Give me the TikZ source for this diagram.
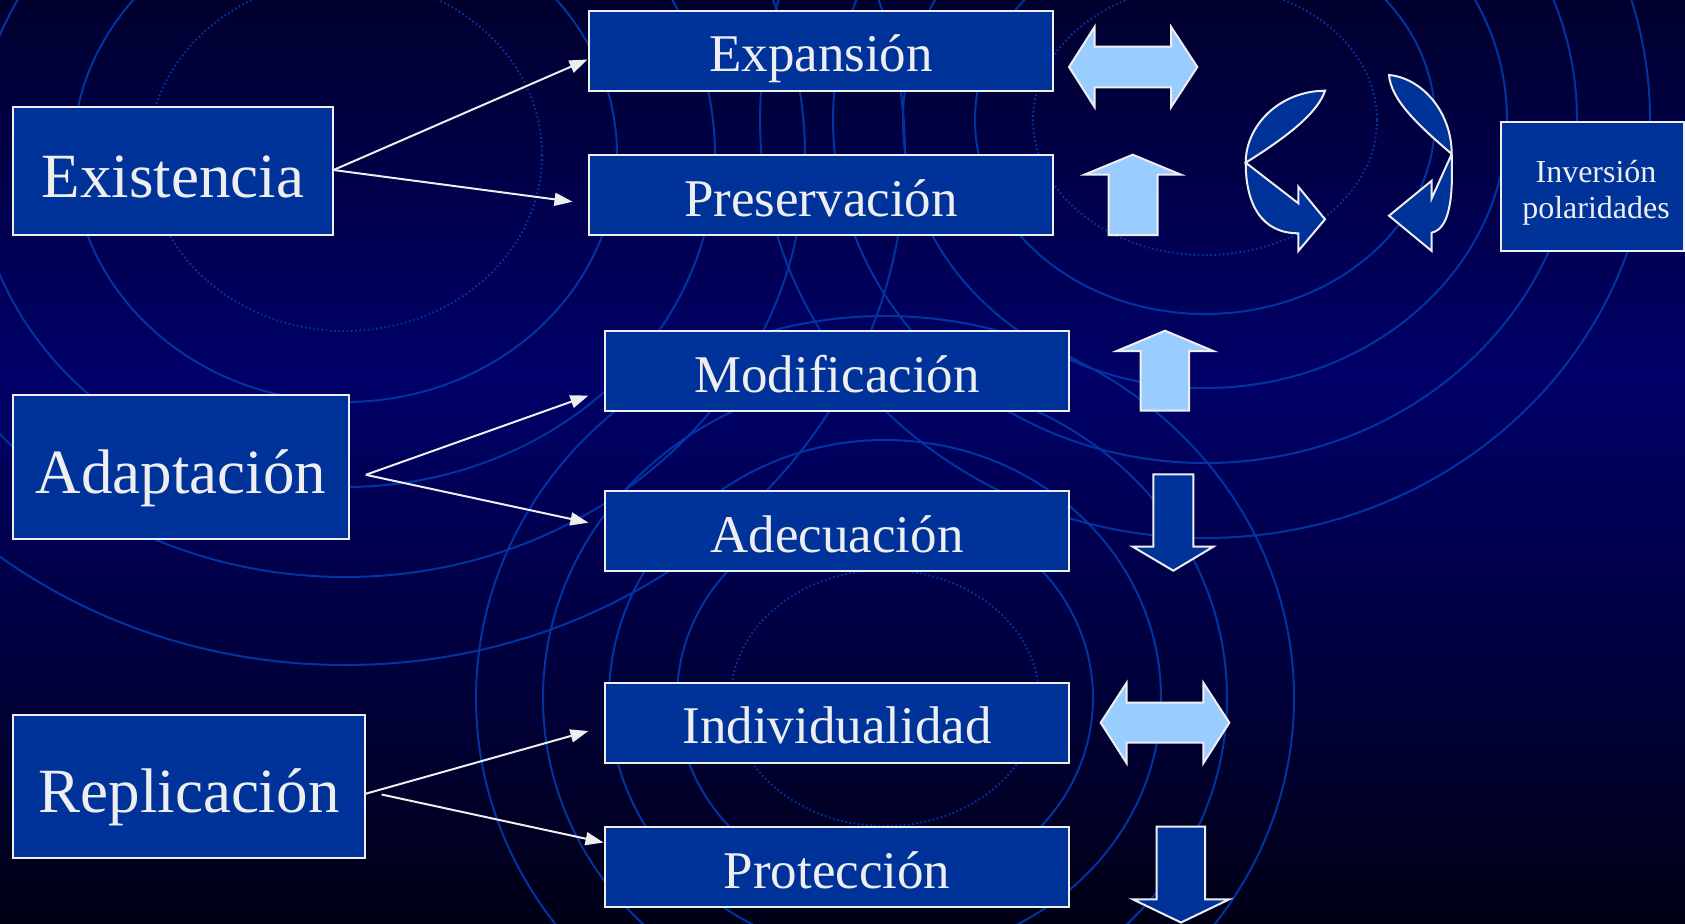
\documentclass[tikz,border=0pt]{standalone}
\usepackage{fontspec}
\setmainfont{Liberation Serif}
\usetikzlibrary{arrows.meta}
\definecolor{boxblue}{RGB}{0,51,153}
\definecolor{lightblue}{RGB}{153,204,255}
\definecolor{txt}{RGB}{238,238,238}
\definecolor{ring}{RGB}{0,52,160}
\definecolor{bgtop}{RGB}{0,0,46}
\definecolor{bgmid}{RGB}{0,0,104}
\definecolor{bgbot}{RGB}{0,0,22}
\begin{document}
\begin{tikzpicture}[x=1pt,y=-1pt,
  ringline/.style={draw=ring, line width=2pt},
  ringdot/.style={draw=ring, line width=2pt, dash pattern=on 1.6pt off 2.6pt},
  bigbox/.style={draw=txt, line width=2pt, fill=boxblue, text=txt, inner sep=0pt,
     font=\fontsize{63}{70}\selectfont, text height=52pt, text depth=0pt},
  midbox/.style={draw=txt, line width=2pt, fill=boxblue, text=txt, inner sep=0pt,
     minimum width=464pt, minimum height=80pt,
     font=\fontsize{53}{60}\selectfont, text height=42pt, text depth=0pt},
  smallbox/.style={draw=txt, line width=2pt, fill=boxblue, text=txt, inner sep=0pt,
     align=center, font=\fontsize{32}{36}\selectfont},
  link/.style={draw=txt, line width=2pt, -{Triangle[length=18pt,width=13pt]}},
  lightarrow/.style={draw=txt, line width=2pt, fill=lightblue, line join=miter},
  darkarrow/.style={draw=txt, line width=2pt, fill=boxblue, line join=miter}
]
\useasboundingbox (0,0) rectangle (1685,923);
% background
\fill[top color=bgtop, bottom color=bgmid] (0,0) rectangle (1685,381);
\fill[top color=bgmid, bottom color=bgbot] (0,380) rectangle (1685,923);
\begin{scope}
\clip (0,0) rectangle (1685,923);
% ripple set A (top left)
\draw[ringdot]  (345,155) ellipse [x radius=197, y radius=176];
\draw[ringline] (345,155) ellipse [x radius=272, y radius=247];
\draw[ringline] (345,155) ellipse [x radius=370, y radius=332];
\draw[ringline] (345,155) ellipse [x radius=460, y radius=422];
\draw[ringline] (345,155) ellipse [x radius=560, y radius=510];
% ripple set B (top right)
\draw[ringdot]  (1205,120) ellipse [x radius=172, y radius=135];
\draw[ringline] (1205,120) ellipse [x radius=230, y radius=194];
\draw[ringline] (1205,120) ellipse [x radius=302, y radius=268];
\draw[ringline] (1205,120) ellipse [x radius=372, y radius=343];
\draw[ringline] (1205,120) ellipse [x radius=445, y radius=418];
% ripple set C (bottom centre)
\draw[ringdot]  (885,698) ellipse [x radius=154, y radius=128];
\draw[ringline] (885,698) ellipse [x radius=208, y radius=194];
\draw[ringline] (885,698) ellipse [x radius=276, y radius=258];
\draw[ringline] (885,698) ellipse [x radius=342, y radius=320];
\draw[ringline] (885,698) ellipse [x radius=409, y radius=382];
\end{scope}

% left boxes
\node[bigbox, minimum width=320pt, minimum height=128pt] (ex) at (173,171) {Existencia};
\node[bigbox, minimum width=336pt, minimum height=144pt] (ad) at (181,467) {Adaptación};
\node[bigbox, minimum width=352pt, minimum height=143pt] (re) at (189,786.5) {Replicación};

% middle boxes
\node[midbox] (exp) at (821,50.7) {Expansión};
\node[midbox] (pre) at (821,195) {Preservación};
\node[midbox] (mod) at (837,371) {Modificación};
\node[midbox] (ade) at (837,531) {Adecuación};
\node[midbox] (ind) at (837,722.8) {Individualidad};
\node[midbox] (pro) at (837,867) {Protección};

% right box
\node[smallbox, minimum width=183pt, minimum height=129pt] (inv) at (1592.5,186.5) {};
\node[text=txt, align=center, font=\fontsize{32}{36}\selectfont, inner sep=0pt] (invt) at (1596,193) {Inversión\\polaridades};

% connectors
\coordinate (exs) at (333.5,170);
\coordinate (exe1) at (587.5,59.5);
\coordinate (exe2) at (572.5,201.7);
\coordinate (ads) at (365.8,474.8);
\coordinate (ade1) at (588.4,395.6);
\coordinate (ade2) at (588.4,522.7);
\coordinate (res1) at (365.8,793.7);
\coordinate (ree1) at (588.4,731);
\coordinate (res2) at (381.6,794.5);
\coordinate (ree2) at (603.5,842.5);
\draw[link] (exs) -- (exe1);
\draw[link] (exs) -- (exe2);
\draw[link] (ads) -- (ade1);
\draw[link] (ads) -- (ade2);
\draw[link] (res1) -- (ree1);
\draw[link] (res2) -- (ree2);

% double arrow (top)
\draw[lightarrow] (1069,67) -- (1094.7,26.7) -- (1094.7,46.7) -- (1171,46.7) -- (1171,26.7)
  -- (1197.3,67) -- (1171,107.3) -- (1171,87.3) -- (1094.7,87.3) -- (1094.7,107.3) -- cycle;
% up arrow (preservacion)
\draw[lightarrow] (1132.7,154.7) -- (1181,174.7) -- (1157.7,174.7) -- (1157.7,235)
  -- (1108.7,235) -- (1108.7,174.7) -- (1084.3,174.7) -- cycle;
% up arrow (modificacion)
\draw[lightarrow] (1165,330.7) -- (1213.3,351) -- (1189,351) -- (1189,410.7)
  -- (1140.7,410.7) -- (1140.7,351) -- (1116.7,351) -- cycle;
% down arrow (adecuacion)
\draw[darkarrow] (1153.3,474.3) -- (1193.3,474.3) -- (1193.3,546.7) -- (1213.3,546.7)
  -- (1173.3,570.7) -- (1132.7,546.7) -- (1153.3,546.7) -- cycle;
% double arrow (individualidad)
\draw[lightarrow] (1100.7,722.7) -- (1126.7,682.7) -- (1126.7,702.7) -- (1203.3,702.7) -- (1203.3,682.7)
  -- (1229.3,722.7) -- (1203.3,763.3) -- (1203.3,742.7) -- (1126.7,742.7) -- (1126.7,763.3) -- cycle;
% down arrow (proteccion)
\draw[darkarrow] (1156.7,826.7) -- (1205,826.7) -- (1205,899.3) -- (1229.3,899.3)
  -- (1181,922.5) -- (1132.7,899.3) -- (1156.7,899.3) -- cycle;

% curved arrows
\draw[darkarrow] (1325,90.7) .. controls (1280,91) and (1245.7,125) .. (1245.7,162.7)
  .. controls (1245.7,205) and (1262,233.3) .. (1298.3,233.3)
  -- (1298.3,251) -- (1325,219.3) -- (1298.3,186.7) -- (1298.3,203.3)
  -- (1245.7,162.7)
  .. controls (1290,135) and (1318,112) .. (1325,90.7) -- cycle;
\draw[darkarrow] (1389,75) .. controls (1422,78) and (1451.7,112) .. (1451.7,154)
  .. controls (1452.5,185) and (1453,228) .. (1431.7,232.7)
  -- (1431.7,251) -- (1389,215.7) -- (1431.7,180.7) -- (1431.7,198.3)
  -- (1451.7,154)
  .. controls (1418,125) and (1391,100) .. (1389,75) -- cycle;
\end{tikzpicture}
\end{document}
